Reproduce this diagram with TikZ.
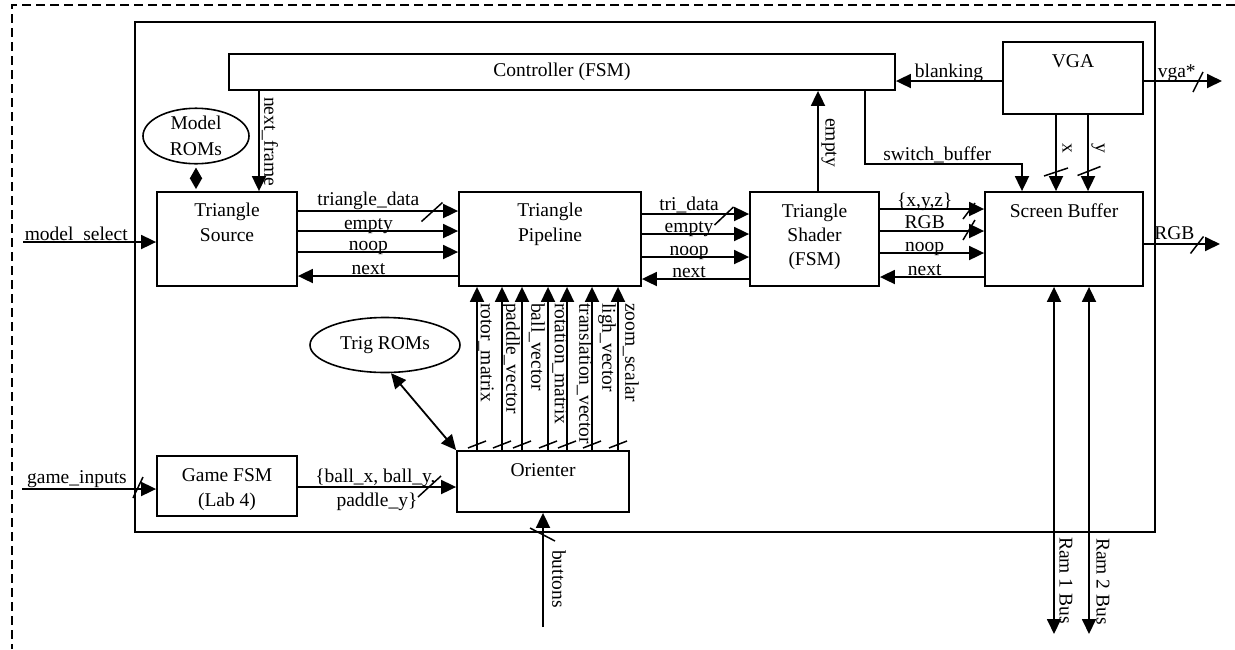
\documentclass[tikz,border=0pt]{standalone}
\usepackage{fontspec}
\setmainfont{Liberation Serif}
\usepackage{tikz}
\usetikzlibrary{arrows.meta,positioning,shapes.geometric,calc}
\newcommand{\diagfont}{\fontsize{19.5}{25.5}\selectfont}
\newcommand{\busslash}[4]{\draw[cut] ({#1-(#3)},{#2+(#4)}) -- ({#1+(#3)},{#2-(#4)});}
\tikzset{
  every node/.append style={font=\diagfont},
  blk/.style={draw,line width=1.8pt,inner sep=0pt},
  rom/.style={draw,ellipse,line width=1.6pt,inner sep=0pt,align=center},
  txt/.style={align=center,inner sep=0pt,anchor=north},
  wire/.style={line width=1.8pt},
  sig/.style={wire,-{Triangle[length=15pt,width=14pt]}},
  bidir/.style={wire,{Triangle[length=15pt,width=14pt]}-{Triangle[length=15pt,width=14pt]}},
  lbl/.style={anchor=base,inner sep=0pt,yshift=2pt},
  vlbl/.style={rotate=-90,anchor=west,inner sep=0pt},
  cut/.style={line width=1.5pt}
}

\begin{document}
\begin{tikzpicture}[x=1pt,y=-1pt]
  \useasboundingbox (0,0) rectangle (1235,649);
  \draw[line width=1.6pt,dash pattern=on 9pt off 5pt] (1235,5) -- (12,5) -- (12,649);
  \draw[wire] (135,22) rectangle (1155,532);

  % blocks
  \node[blk,minimum width=666pt,minimum height=36pt] (ctrl) at (562,72) {Controller (FSM)};
  \node[blk,minimum width=140pt,minimum height=72pt] (vga) at (1073,78) {};
  \node[txt] (vgat) at ([yshift=-13.5pt]vga.north) {VGA};
  \node[blk,minimum width=140pt,minimum height=94pt] (src) at (227,239) {};
  \node[txt] (srct) at ([yshift=-11.5pt]src.north) {Triangle\\Source};
  \node[blk,minimum width=182pt,minimum height=94pt] (pipe) at (550,239) {};
  \node[txt] (pipet) at ([yshift=-11.5pt]pipe.north) {Triangle\\Pipeline};
  \node[blk,minimum width=129pt,minimum height=94pt] (shader) at (814.5,239) {};
  \node[txt,font=\fontsize{19.5}{24}\selectfont] (shadert) at ([yshift=-12.5pt]shader.north) {Triangle\\Shader\\(FSM)};
  \node[blk,minimum width=158pt,minimum height=94pt] (buf) at (1064,239) {};
  \node[txt] (buft) at ([yshift=-12.5pt]buf.north) {Screen Buffer};
  \node[blk,minimum width=140pt,minimum height=60pt] (game) at (227,486) {};
  \node[txt] (gamet) at ([yshift=-13pt]game.north) {Game FSM\\(Lab 4)};
  \node[blk,minimum width=172pt,minimum height=61pt] (ori) at (543,481.5) {};
  \node[txt] (orit) at ([yshift=-13.5pt]ori.north) {Orienter};
  \node[rom,minimum width=106pt,minimum height=52pt] (model) at (196,136) {Model\\ROMs};
  \node[rom,minimum width=150pt,minimum height=55pt] (trig) at (385,345) {Trig ROMs};

  \coordinate (msel) at (23,242);
  \coordinate (gin) at (22,489);
  \coordinate (btn) at (543,627);
  \coordinate (vgaout) at (1222,81);
  \coordinate (rgbout) at (1220,244);
  \coordinate (ram1) at (1054,634);
  \coordinate (ram2) at (1089,634);

  % controller links
  \draw[sig] (ctrl.south -| 259,0) -- (src.north -| 259,0);
  \node[vlbl] (nfl) at (270,97) {next\_frame};
  \draw[sig] (shader.north -| 818,0) -- (ctrl.south -| 818,0);
  \node[vlbl] (eml) at (829,118) {empty};
  \draw[sig] (vga.west |- 0,81) -- node[lbl,yshift=2pt]{blanking} (ctrl.east |- 0,81);
  \draw[sig] (ctrl.south -| 865,0) |- node[lbl,pos=.73,yshift=2pt]{switch\_buffer} (1022,164) -- (buf.north -| 1022,0);
  \draw[sig] (vga.east |- vgaout) -- node[lbl,pos=.42,yshift=2pt]{vga*} (vgaout);
  \draw[sig] (vga.south -| 1056,0) -- (buf.north -| 1056,0);
  \draw[sig] (vga.south -| 1088,0) -- (buf.north -| 1088,0);
  \node[vlbl] (xl) at (1067,143) {x};
  \node[vlbl] (yl) at (1098,143) {y};

  % inputs
  \draw[sig] (msel) -- node[lbl,pos=.4]{model\_select} (src.west |- msel);
  \draw[sig] (gin) -- node[lbl,pos=.41,yshift=4pt]{game\_inputs} (game.west |- gin);
  \draw[wire,{Triangle[length=11pt,width=12pt]}-{Triangle[length=11pt,width=12pt]},shorten <=3pt,shorten >=2pt] (model.south) -- (src.north -| model.south);

  % source -> pipeline
  \draw[sig] ([yshift=28pt]src.east) -- node[lbl,pos=.44,yshift=4pt]{triangle\_data} ([yshift=28pt]pipe.west);
  \draw[sig] ([yshift=8pt]src.east) -- node[lbl,pos=.44]{empty} ([yshift=8pt]pipe.west);
  \draw[sig] ([yshift=-13pt]src.east) -- node[lbl,pos=.44]{noop} ([yshift=-13pt]pipe.west);
  \draw[sig] ([yshift=-37pt]pipe.west) -- node[lbl,pos=.56]{next} ([yshift=-37pt]src.east);

  % pipeline -> shader
  \draw[sig] ([yshift=25pt]pipe.east) -- node[lbl,pos=.44,yshift=2pt]{tri\_data} ([yshift=25pt]shader.west);
  \draw[sig] ([yshift=5pt]pipe.east) -- node[lbl,pos=.44]{empty} ([yshift=5pt]shader.west);
  \draw[sig] ([yshift=-18pt]pipe.east) -- node[lbl,pos=.44]{noop} ([yshift=-18pt]shader.west);
  \draw[sig] ([yshift=-40pt]shader.west) -- node[lbl,pos=.56]{next} ([yshift=-40pt]pipe.east);

  % shader -> screen buffer
  \draw[sig] ([yshift=30pt]shader.east) -- node[lbl,pos=.43,yshift=1pt]{\{x,y,z\}} ([yshift=30pt]buf.west);
  \draw[sig] ([yshift=8pt]shader.east) -- node[lbl,pos=.43,yshift=1pt]{RGB} ([yshift=8pt]buf.west);
  \draw[sig] ([yshift=-14pt]shader.east) -- node[lbl,pos=.43]{noop} ([yshift=-14pt]buf.west);
  \draw[sig] ([yshift=-38pt]buf.west) -- node[lbl,pos=.57]{next} ([yshift=-38pt]shader.east);

  % outputs
  \draw[sig] (buf.east |- rgbout) -- node[lbl,pos=.4,yshift=3pt]{RGB} (rgbout);
  \draw[bidir] (buf.south -| ram1) -- (ram1);
  \draw[bidir] (buf.south -| ram2) -- (ram2);
  \node[vlbl] (r1l) at (1066,537) {Ram 1 Bus};
  \node[vlbl] (r2l) at (1103,538) {Ram 2 Bus};

  % orienter
  \draw[sig] (game.east |- 0,487) -- node[lbl,pos=.49,yshift=3pt]{\{ball\_x, ball\_y,}
    node[pos=.5,anchor=base,inner sep=0pt,yshift=-19pt]{paddle\_y\}} (ori.west |- 0,487);
  \draw[bidir] (trig.-78) -- (ori.north west);
  \draw[sig] (btn) -- (ori.south);
  \node[vlbl] (btl) at (559,550) {buttons};
  \foreach \xx/\lx/\nm in {477/486/rotor\_matrix, 502/511/paddle\_vector, 522/537/ball\_vector,
      548/560/rotation\_matrix, 567/585/translation\_vector, 592/607/ligh\_vector, 618/631/zoom\_scalar}{
    \draw[sig] (ori.north -| \xx,0) -- (pipe.south -| \xx,0);
    \node[vlbl] (v\xx) at (\lx,303) {\nm};
    \busslash{\xx}{444.5}{9}{3.5}
  }

  % bus marks
  \busslash{432}{212}{10.5}{9.5}
  \busslash{724}{216}{9.5}{9}
  \busslash{969}{211}{6}{8}
  \busslash{969}{230}{6}{10}
  \busslash{1198}{82}{5}{10}
  \busslash{1197}{245}{6.5}{8.5}
  \busslash{1056}{172}{12}{4}
  \busslash{1089}{171}{11.5}{4.5}
  \busslash{138}{487.5}{5}{10.5}
  \busslash{429.5}{486.5}{11.5}{10.5}
  \busslash{542.5}{534.5}{12.5}{-6.5}
\end{tikzpicture}
\end{document}
